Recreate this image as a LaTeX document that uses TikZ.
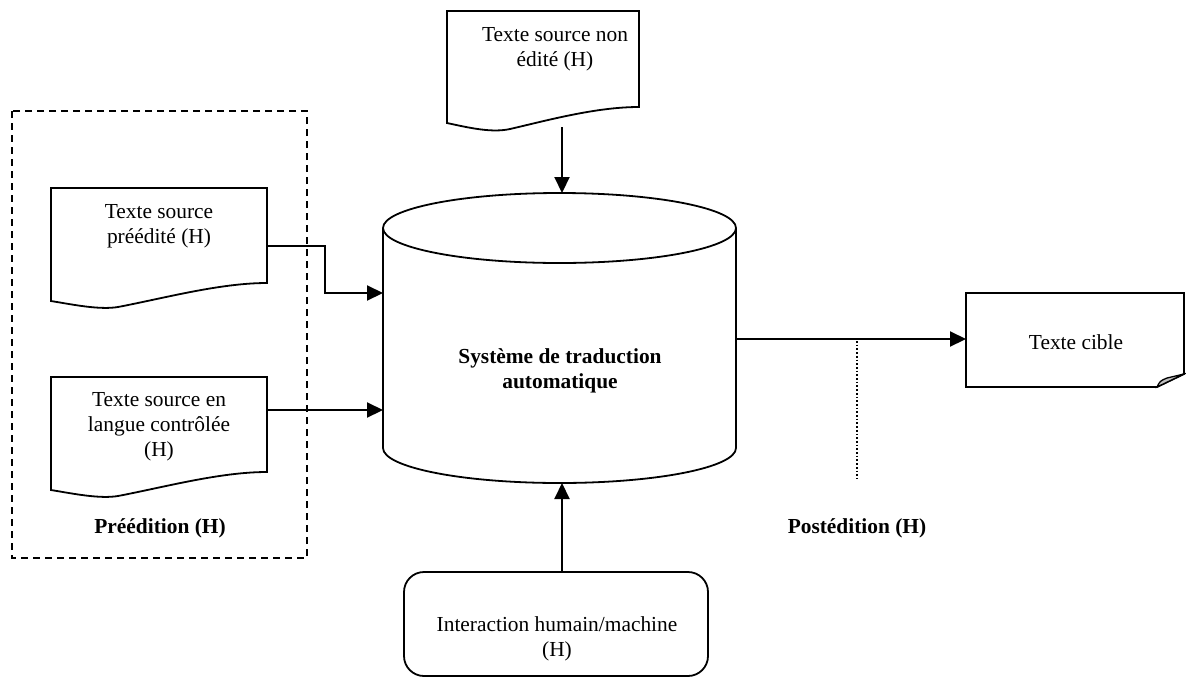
\documentclass[tikz,border=0pt]{standalone}
\usepackage{fontspec}
\setmainfont{Liberation Serif}
\usetikzlibrary{arrows.meta}
\begin{document}
\begin{tikzpicture}[x=1pt,y=-1pt,
  outline/.style={draw=black,line width=1.8pt,line join=miter},
  conn/.style={line width=2.1pt,-{Triangle[length=16pt,width=15pt]}},
  lbl/.style={inner sep=0pt,align=center,font=\fontsize{21.4}{25}\selectfont},
  boldlbl/.style={lbl,font=\fontsize{21.4}{25}\selectfont\bfseries},
  frame/.style={draw=black,line width=1.7pt,dash pattern=on 7pt off 5pt},
  guide/.style={draw=black,line width=1.7pt,dash pattern=on 1.7pt off 2pt}]
\useasboundingbox (0,0) rectangle (1186,678);

% pre-editing frame
\draw[frame] (12,111) rectangle (307,558);
\node[boldlbl] (pre) at (160,528) {Préédition (H)};

% unedited source document (top)
\draw[outline] (447,11) -- (639,11) -- (639,107)
  .. controls (595,107) and (545,121) .. (510,129)
  .. controls (492,133) and (470,128) .. (447,123) -- cycle;
\node[lbl] (src) at (555,49) {Texte source non\\édité (H)};
\coordinate (srcout) at (562,127);

% pre-edited source document
\draw[outline] (51,188) -- (267,188) -- (267,283)
  .. controls (220,283) and (165,298) .. (118,307)
  .. controls (100,310) and (75,305) .. (51,301) -- cycle;
\node[lbl] (pe) at (159,226) {Texte source\\préédité (H)};
\coordinate (peout) at (267,246);
\coordinate (pebend) at (325,246);

% controlled-language source document
\draw[outline] (51,377) -- (267,377) -- (267,472)
  .. controls (220,472) and (165,487) .. (118,496)
  .. controls (100,499) and (75,494) .. (51,490) -- cycle;
\node[lbl] (cl) at (159,427) {Texte source en\\langue contrôlée\\(H)};
\coordinate (clout) at (267,410);

% machine translation system (cylinder)
\draw[outline] (383,228) -- (383,448)
  arc[start angle=180,end angle=0,x radius=176.5,y radius=35] -- (736,228);
\draw[outline] (559.5,228) ellipse[x radius=176.5,y radius=35];
\node[boldlbl] (mt) at (560,371) {Système de traduction\\automatique};
\coordinate (mttop) at (562,193);
\coordinate (mtbot) at (562,483);
\coordinate (mtin1) at (383,293);
\coordinate (mtin2) at (383,410);
\coordinate (mtout) at (736,339);

% target document with folded corner
\draw[outline] (966,293) -- (1184,293) -- (1184,374) -- (1157,387) -- (966,387) -- cycle;
\filldraw[fill=black!25,draw=black,line width=1.3pt] (1157,387)
  .. controls (1160,381) .. (1167,378) -- (1184,374) -- cycle;
\node[lbl] (tgt) at (1076,342) {Texte cible};
\coordinate (tgtin) at (966,339);

% human/machine interaction box
\node[outline,rounded corners=20pt,minimum width=304pt,minimum height=104pt,inner sep=0pt]
  (hm) at (556,624) {};
\node[lbl] (hmtext) at (557,638.5) {Interaction humain/machine\\(H)};

% post-editing marker
\coordinate (postop) at (857,341);
\coordinate (posbot) at (857,479);
\draw[guide] (postop) -- (posbot);
\node[boldlbl] (post) at (857,528) {Postédition (H)};

% connectors
\draw[conn] (srcout) -- (mttop);
\draw[conn] (peout) -- (pebend) |- (mtin1);
\draw[conn] (clout) -- (mtin2);
\draw[conn] (hm.north -| mtbot) -- (mtbot);
\draw[conn] (mtout) -- (tgtin);
\end{tikzpicture}
\end{document}
